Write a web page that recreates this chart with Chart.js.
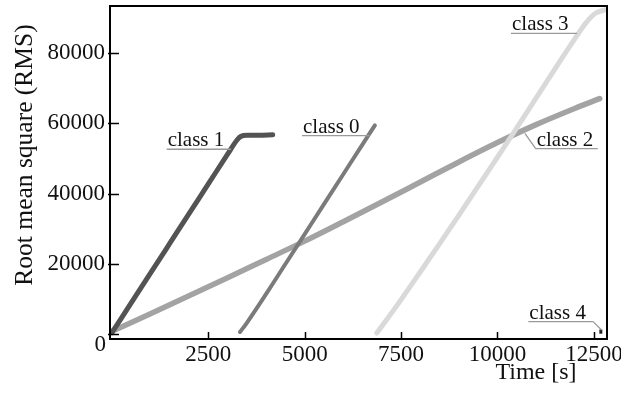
<!DOCTYPE html>
<html>
<head>
<meta charset="utf-8">
<script src="https://cdn.jsdelivr.net/npm/chart.js@4/dist/chart.umd.min.js"></script>
<style>
  html, body { margin: 0; padding: 0; background: #fff; }
</style>
</head>
<body>
<canvas id="rmsChart" width="621" height="394"></canvas>
<script>
// values (time in s, RMS)
const classNames = ['class 0', 'class 1', 'class 2', 'class 3', 'class 4'];

const class0X = [3320, 3400, 3500, 4000, 4500, 5000, 5500, 6000, 6500, 6820];
const class0Y = [700, 1800, 3300, 11500, 20000, 28500, 37000, 45500, 54000, 59400];

const class1X = [0, 500, 1000, 1500, 2000, 2500, 3000, 3250, 3350, 3500, 3800, 4170];
const class1Y = [500, 8950, 17400, 25850, 34300, 42750, 51200, 55300, 56300, 56600, 56600, 56700];

const class2X = [0, 1000, 2000, 3000, 4000, 5000, 6000, 7000, 8000, 9000, 10000, 11000, 12000, 12650];
const class2Y = [900, 5900, 11000, 16100, 21300, 26500, 32000, 37600, 43300, 49000, 54500, 59600, 64200, 67000];

const class3X = [6870, 7000, 7500, 8000, 8500, 9000, 9500, 10000, 10500, 11000, 11500, 12000, 12300, 12550, 12780];
const class3Y = [400, 2300, 9900, 17800, 25800, 33900, 42100, 50400, 58700, 67100, 75600, 83900, 88600, 91300, 92200];

const class4X = [12680, 12680];
const class4Y = [200, 1400];

const xTicks = [2500, 5000, 7500, 10000, 12500];
const yTicks = [0, 20000, 40000, 60000, 80000];

// label underline (data coords) and optional leader end point
const labelStartX = [4930, 1420, 10990, 10350, 10800];
const labelEndX = [6690, 3090, 12600, 12060, 12480];
const labelY = [56500, 52600, 52800, 85500, 3640];
const leaderX = [null, null, 10710, null, 12700];
const leaderY = [null, null, 57100, null, 1280];

const FONT = "'Liberation Serif', 'Times New Roman', serif";

function toPoints(xs, ys) {
    return xs.map((x, i) => ({ x: x, y: ys[i] }));
}

const seriesStyle = [
    { color: '#7b7b7b', width: 4, order: 2 },
    { color: '#535353', width: 5, order: 1 },
    { color: '#a3a3a3', width: 5.5, order: 4 },
    { color: '#d9d9d9', width: 5, order: 3 },
    { color: '#222222', width: 3, order: 0 }
];
const seriesData = [
    toPoints(class0X, class0Y),
    toPoints(class1X, class1Y),
    toPoints(class2X, class2Y),
    toPoints(class3X, class3Y),
    toPoints(class4X, class4Y)
];

const decorPlugin = {
    id: 'decor',
    afterDraw(chart) {
        const { ctx, chartArea } = chart;
        const xs = chart.scales.x;
        const ys = chart.scales.y;
        ctx.save();

        // class labels with underline / leader
        ctx.font = '21px ' + FONT;
        ctx.textAlign = 'left';
        ctx.textBaseline = 'alphabetic';
        classNames.forEach((name, i) => {
            const x0 = xs.getPixelForValue(labelStartX[i]);
            const x1 = xs.getPixelForValue(labelEndX[i]);
            const y = ys.getPixelForValue(labelY[i]);
            ctx.strokeStyle = '#9a9a9a';
            ctx.lineWidth = 1.3;
            ctx.beginPath();
            ctx.moveTo(x0, y);
            ctx.lineTo(x1, y);
            if (leaderX[i] !== null) {
                const lx = xs.getPixelForValue(leaderX[i]);
                const ly = ys.getPixelForValue(leaderY[i]);
                const from = lx < x0 ? x0 : x1;
                ctx.moveTo(from, y);
                ctx.lineTo(lx, ly);
            }
            ctx.stroke();
            ctx.fillStyle = '#111';
            ctx.fillText(name, x0 + 1, y - 3);
        });

        // frame
        ctx.strokeStyle = '#000';
        ctx.lineWidth = 2;
        ctx.strokeRect(chartArea.left, chartArea.top, chartArea.right - chartArea.left, chartArea.bottom - chartArea.top);

        // inward ticks
        ctx.lineWidth = 1.5;
        ctx.beginPath();
        xTicks.forEach(v => {
            const px = Math.round(xs.getPixelForValue(v)) + 0.5;
            ctx.moveTo(px, chartArea.bottom);
            ctx.lineTo(px, chartArea.bottom - 7);
        });
        yTicks.forEach(v => {
            const py = Math.round(ys.getPixelForValue(v)) + 0.5;
            ctx.moveTo(chartArea.left - 2, py);
            ctx.lineTo(chartArea.left + 9, py);
        });
        ctx.stroke();

        // the zero label sits a little below the corner in the original
        ctx.fillStyle = '#111';
        ctx.font = '23px ' + FONT;
        ctx.textAlign = 'right';
        ctx.textBaseline = 'middle';
        ctx.fillText('0', chartArea.left - 4, chartArea.bottom + 6);

        // axis titles
        ctx.textBaseline = 'alphabetic';
        ctx.font = '24px ' + FONT;
        ctx.textAlign = 'center';
        ctx.fillText('Time [s]', chartArea.right - 71, chartArea.bottom + 40);

        ctx.font = '25.5px ' + FONT;
        ctx.translate(31.5, 155);
        ctx.rotate(-Math.PI / 2);
        ctx.fillText('Root mean square (RMS)', 0, 0);
        ctx.restore();
    }
};

const chart = new Chart(document.getElementById('rmsChart'), {
    type: 'line',
    data: {
        datasets: seriesData.map((pts, i) => ({
            label: classNames[i],
            data: pts,
            borderColor: seriesStyle[i].color,
            borderWidth: seriesStyle[i].width,
            order: seriesStyle[i].order,
            pointRadius: 0,
            fill: false,
            cubicInterpolationMode: 'monotone',
            borderCapStyle: i === 4 ? 'butt' : 'round',
            borderJoinStyle: 'round'
        }))
    },
    options: {
        responsive: false,
        devicePixelRatio: 1,
        animation: false,
        layout: { padding: { top: 6, right: 14, left: 0, bottom: 0 } },
        plugins: {
            legend: { display: false },
            tooltip: { enabled: false }
        },
        scales: {
            x: {
                type: 'linear',
                min: -50,
                max: 12840,
                grid: { display: false, drawTicks: false },
                border: { display: false },
                ticks: {
                    color: '#111',
                    font: { family: FONT, size: 23 },
                    padding: 2,
                    maxRotation: 0,
                    autoSkip: false,
                    callback: v => String(v)
                },
                afterBuildTicks: s => { s.ticks = xTicks.map(v => ({ value: v })); },
                afterFit: s => { s.height = 55; s.paddingLeft = 0; s.paddingRight = 0; }
            },
            y: {
                type: 'linear',
                min: -1300,
                max: 93300,
                grid: { display: false, drawTicks: false },
                border: { display: false },
                ticks: {
                    color: '#111',
                    font: { family: FONT, size: 23 },
                    padding: 5,
                    autoSkip: false,
                    callback: v => (v === 0 ? '' : String(v))
                },
                afterBuildTicks: s => { s.ticks = yTicks.map(v => ({ value: v })); },
                afterFit: s => { s.width = 110; s.paddingTop = 0; s.paddingBottom = 0; }
            }
        }
    },
    plugins: [decorPlugin]
});
</script>
</body>
</html>
